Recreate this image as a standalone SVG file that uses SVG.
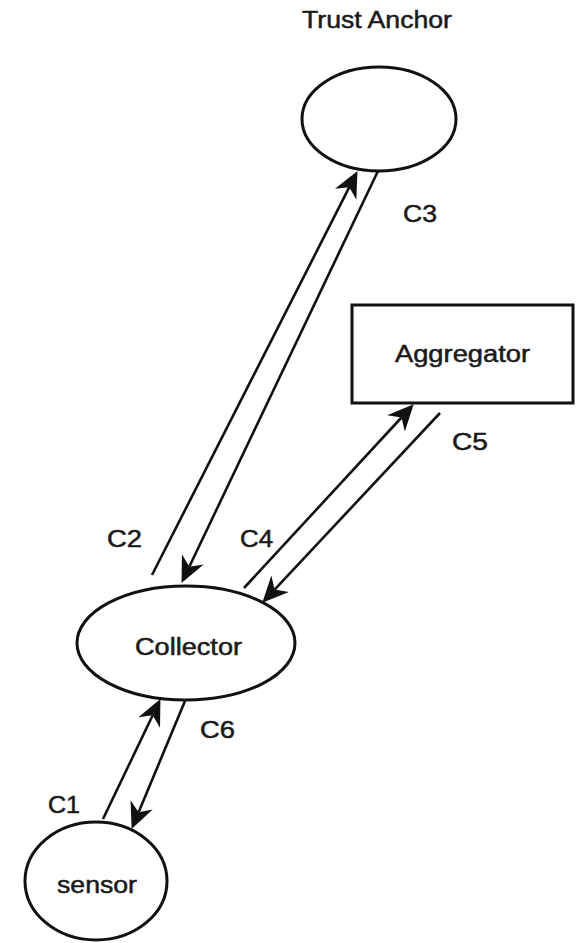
<svg xmlns="http://www.w3.org/2000/svg" width="576" height="943" viewBox="0 0 576 943">
  <defs>
    <!-- barbed arrowhead, tip at origin, pointing along +x -->
    <path id="ah" d="M1,0 L-25,-12 L-17,0 L-25,12 Z" fill="#111"/>
  </defs>
  <style>
    .node { fill: #fff; stroke: #111; stroke-width: 3; }
    .link { stroke: #111; stroke-width: 2.6; fill: none; }
    .lbl { font-family: "Liberation Sans", Arial, sans-serif; font-size: 23px; fill: #1a1a1a; stroke: #1a1a1a; stroke-width: 0.5; }
  </style>
  <rect width="576" height="943" fill="#fff"/>

  <g id="trust-anchor">
    <text class="lbl" x="302" y="28" font-size="21" textLength="150" lengthAdjust="spacingAndGlyphs">Trust Anchor</text>
    <ellipse class="node" cx="379" cy="119" rx="77" ry="52"/>
  </g>

  <g id="aggregator">
    <rect class="node" x="352" y="305" width="221" height="98" stroke-width="3.5"/>
    <text class="lbl" x="395" y="362" textLength="135" lengthAdjust="spacingAndGlyphs">Aggregator</text>
  </g>

  <g id="collector">
    <ellipse class="node" cx="186" cy="643" rx="109" ry="57"/>
    <text class="lbl" x="135" y="655" textLength="107" lengthAdjust="spacingAndGlyphs">Collector</text>
  </g>

  <g id="sensor">
    <ellipse class="node" cx="96" cy="881" rx="71" ry="59"/>
    <text class="lbl" x="57" y="893" textLength="80" lengthAdjust="spacingAndGlyphs">sensor</text>
  </g>

  <g id="connectors">
    <!-- C1: sensor to collector -->
    <line class="link" x1="103" y1="819" x2="152.7" y2="715.3"/>
    <use href="#ah" transform="translate(160,700) rotate(-64.4)"/>
    <!-- C6: collector to sensor -->
    <line class="link" x1="185" y1="701" x2="138.6" y2="812.3"/>
    <use href="#ah" transform="translate(132,828) rotate(112.65)"/>
    <!-- C2: collector to trust anchor -->
    <line class="link" x1="152" y1="575" x2="349.3" y2="187.2"/>
    <use href="#ah" transform="translate(357,172) rotate(-63.04)"/>
    <!-- C3: trust anchor to collector -->
    <line class="link" x1="378" y1="171" x2="189.3" y2="566.7"/>
    <use href="#ah" transform="translate(182,582) rotate(115.5)"/>
    <!-- C4: collector to aggregator -->
    <line class="link" x1="244" y1="588" x2="401.5" y2="417.5"/>
    <use href="#ah" transform="translate(413,405) rotate(-47.27)"/>
    <!-- C5: aggregator to collector -->
    <line class="link" x1="440" y1="413" x2="274.6" y2="589.6"/>
    <use href="#ah" transform="translate(263,602) rotate(133.13)"/>

    <text class="lbl" x="48" y="813" textLength="32" lengthAdjust="spacingAndGlyphs">C1</text>
    <text class="lbl" x="200" y="738" textLength="35" lengthAdjust="spacingAndGlyphs">C6</text>
    <text class="lbl" x="107" y="547" textLength="35" lengthAdjust="spacingAndGlyphs">C2</text>
    <text class="lbl" x="240" y="547" textLength="33" lengthAdjust="spacingAndGlyphs">C4</text>
    <text class="lbl" x="403" y="222" textLength="34" lengthAdjust="spacingAndGlyphs">C3</text>
    <text class="lbl" x="452" y="450" textLength="36" lengthAdjust="spacingAndGlyphs">C5</text>
  </g>
</svg>
